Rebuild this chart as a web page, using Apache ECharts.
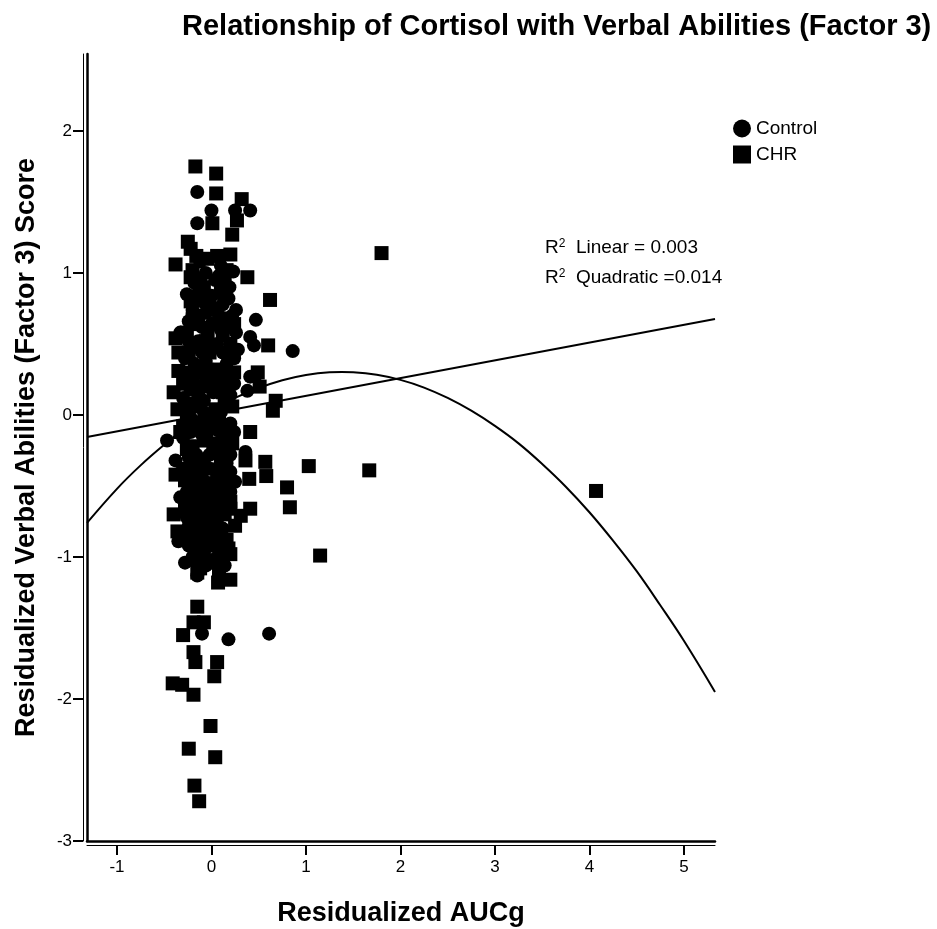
<!DOCTYPE html>
<html>
<head>
<meta charset="utf-8">
<title>Relationship of Cortisol with Verbal Abilities (Factor 3)</title>
<script src="https://cdn.jsdelivr.net/npm/echarts@6/dist/echarts.min.js"></script>
<style>
  html, body { margin: 0; padding: 0; background: #fff; }
  #chart { width: 937px; height: 929px; }
</style>
</head>
<body>
<div id="chart"></div>
<script>
  // axis ticks
  var xTicks = [-1, 0, 1, 2, 3, 4, 5]
  var yTicks = [-3, -2, -1, 0, 1, 2]

  // Control group (circles): [residualized AUCg, factor 3 score]
  var controlPoints = [
    [-0.15, 1.57], [0.00, 1.44], [0.25, 1.44], [0.41, 1.44], [-0.15, 1.35],
    [0.23, 1.01], [-0.26, 0.85], [-0.20, 0.71], [-0.33, 0.58], [0.47, 0.67],
    [0.45, 0.49], [0.41, 0.55], [0.86, 0.45], [0.22, 0.44], [0.47, 0.28],
    [0.41, 0.27], [0.38, 0.17], [-0.47, -0.18], [-0.38, -0.32], [0.18, -0.25],
    [0.36, -0.26], [0.25, -0.47], [-0.33, -0.58], [-0.35, -0.89], [-0.28, -1.04],
    [-0.15, -1.13], [-0.10, -1.54], [0.18, -1.58], [0.61, -1.54],
    [-0.12, 1.08], [0.10, 1.05],
    [-0.18, 0.93], [0.04, 0.95], [0.19, 0.90],
    [-0.10, 0.80], [0.12, 0.78], [0.26, 0.74],
    [-0.24, 0.66], [0.00, 0.64], [0.20, 0.62],
    [-0.14, 0.52], [0.06, 0.50], [0.28, 0.46],
    [-0.28, 0.40], [-0.06, 0.38], [0.16, 0.36],
    [-0.20, 0.26], [0.02, 0.24], [0.24, 0.22],
    [-0.30, 0.12], [-0.08, 0.10], [0.14, 0.08],
    [-0.22, -0.02], [0.00, -0.04], [0.20, -0.06],
    [-0.30, -0.16], [-0.10, -0.14], [0.10, -0.18],
    [-0.24, -0.30], [-0.02, -0.28], [0.16, -0.34],
    [-0.16, -0.42], [0.06, -0.44],
    [-0.26, -0.54], [-0.04, -0.52], [0.16, -0.56],
    [-0.18, -0.66], [0.02, -0.68],
    [-0.24, -0.78], [-0.04, -0.76], [0.12, -0.80],
    [-0.14, -0.90], [0.06, -0.92],
    [-0.20, -1.00], [0.02, -1.02],
    [-0.06, 1.00], [0.08, 0.98], [-0.14, 0.86], [0.00, 0.84], [0.18, 0.82],
    [-0.20, 0.74], [-0.06, 0.72], [0.08, 0.70], [0.22, 0.70],
    [-0.10, 0.62], [0.10, 0.60], [0.26, 0.58],
    [-0.24, 0.52], [-0.10, 0.44], [0.12, 0.44], [0.24, 0.40],
    [-0.18, 0.36], [0.00, 0.32], [0.18, 0.28],
    [-0.26, 0.30], [-0.06, 0.26], [0.10, 0.22],
    [-0.14, 0.14], [0.02, 0.16], [0.20, 0.14],
    [-0.26, 0.04], [-0.08, 0.02], [0.10, 0.02],
    [-0.16, -0.06], [0.06, -0.08], [0.24, -0.12],
    [-0.22, -0.12], [-0.04, -0.12], [0.14, -0.14],
    [-0.16, -0.28], [0.06, -0.26], [0.20, -0.28],
    [-0.20, -0.36], [0.00, -0.38], [0.20, -0.40],
    [-0.10, -0.44], [0.10, -0.46],
    [-0.20, -0.54], [0.02, -0.56], [0.20, -0.54],
    [-0.06, -0.64], [0.14, -0.64], [-0.24, -0.60],
    [-0.14, -0.74], [0.06, -0.76], [-0.26, -0.72],
    [-0.08, -0.84], [0.10, -0.86], [-0.28, -0.84],
    [-0.14, -0.96], [0.08, -0.96], [-0.24, -0.92],
    [-0.06, -1.06], [0.14, -1.06]
  ]

  // CHR group (squares)
  var chrPoints = [
    [1.80, 1.14], [4.07, -0.535], [1.67, -0.39], [1.03, -0.36], [1.15, -0.99],
    [0.83, -0.65], [0.80, -0.51], [0.57, -0.33], [0.58, -0.43], [0.68, 0.10],
    [0.65, 0.03], [0.62, 0.81], [0.60, 0.49], [0.49, 0.30], [0.51, 0.20],
    [0.41, -0.12], [0.41, -0.66], [0.40, -0.45], [0.36, -0.32], [0.20, -0.61],
    [0.31, -0.71], [0.25, -0.78], [0.20, -0.98],
    [-0.17, 1.75], [0.05, 1.70], [0.05, 1.56], [0.32, 1.52], [0.27, 1.37],
    [0.01, 1.35], [0.22, 1.27], [-0.25, 1.22], [-0.38, 1.06], [0.20, 1.13],
    [-0.22, 1.17], [0.38, 0.97], [-0.22, 0.97],
    [-0.38, 0.54], [-0.35, 0.44], [-0.35, 0.31], [-0.40, 0.16], [-0.36, 0.04],
    [-0.33, -0.12], [-0.38, -0.42], [-0.40, -0.70], [-0.36, -0.82],
    [-0.15, -1.11], [0.07, -1.18], [0.20, -1.16], [-0.15, -1.35], [-0.08, -1.46],
    [-0.19, -1.46], [-0.30, -1.55], [-0.19, -1.67], [-0.17, -1.74], [0.06, -1.74],
    [0.03, -1.84], [-0.41, -1.89], [-0.31, -1.90], [-0.19, -1.97], [-0.01, -2.19],
    [-0.24, -2.35], [0.04, -2.41], [-0.18, -2.61], [-0.13, -2.72],
    [-0.04, 1.10], [0.16, 1.02], [-0.20, 1.02],
    [-0.08, 0.90], [0.10, 0.86], [-0.22, 0.80],
    [0.02, 0.74], [-0.14, 0.70], [0.16, 0.68],
    [-0.26, 0.58], [-0.04, 0.58], [0.12, 0.56],
    [-0.20, 0.48], [0.20, 0.50], [-0.02, 0.44],
    [-0.14, 0.34], [0.08, 0.32], [0.24, 0.30],
    [-0.30, 0.22], [-0.10, 0.20], [0.12, 0.16],
    [-0.20, 0.08], [0.04, 0.04], [0.22, 0.06],
    [-0.30, -0.08], [-0.12, -0.06], [0.10, -0.10],
    [-0.20, -0.22], [0.02, -0.20], [0.22, -0.20],
    [-0.30, -0.38], [-0.08, -0.36], [0.14, -0.40],
    [-0.24, -0.46], [-0.04, -0.48], [0.18, -0.48],
    [-0.12, -0.60], [0.10, -0.62], [-0.28, -0.66],
    [-0.10, -0.72], [0.14, -0.70],
    [-0.22, -0.86], [0.00, -0.84], [0.16, -0.88],
    [-0.08, -0.98], [0.12, -1.00],
    [-0.12, -1.08], [0.08, -1.10],
    [-0.16, 1.12], [0.06, 1.12], [-0.12, 0.96], [0.14, 0.94],
    [-0.02, 0.82], [-0.18, 0.64], [0.06, 0.64], [0.24, 0.64],
    [-0.06, 0.52], [0.18, 0.42], [-0.24, 0.44],
    [-0.08, 0.30], [0.12, 0.28], [-0.22, 0.18], [0.04, 0.20], [0.18, 0.20],
    [-0.12, 0.06], [0.14, 0.10], [-0.26, -0.02], [0.08, -0.02],
    [-0.06, -0.18], [0.16, -0.22], [-0.26, -0.24],
    [-0.12, -0.32], [0.10, -0.32], [-0.28, -0.46], [-0.14, -0.50], [0.08, -0.52],
    [-0.16, -0.58], [0.20, -0.66], [-0.02, -0.62],
    [-0.20, -0.72], [0.04, -0.72],
    [-0.16, -0.82], [0.08, -0.82], [-0.02, -0.92], [0.18, -0.94],
    [-0.16, -1.02], [0.06, -1.04]
  ]

  // fit lines
  var linearFit = [[-1.317, -0.155], [5.329, 0.676]]
  var quadX = [-1.317, -1.0, -0.75, -0.5, -0.25, 0, 0.25, 0.5, 0.75, 1.0, 1.25, 1.38, 1.5, 1.75,
    2.0, 2.25, 2.5, 2.75, 3.0, 3.25, 3.5, 3.75, 4.0, 4.25, 4.5, 4.75, 5.0, 5.329]
  var quadY = [-0.76, -0.52, -0.355, -0.21, -0.08, 0.03, 0.12, 0.19, 0.245, 0.282, 0.301, 0.303, 0.301, 0.283,
    0.247, 0.193, 0.12, 0.03, -0.077, -0.20, -0.345, -0.505, -0.685, -0.885, -1.10, -1.34, -1.59, -1.95]

  var xMin = -1.317
  var xMax = 5.329
  var yMin = -3
  var yMax = 2.542
  var font = 'Liberation Sans, Arial, sans-serif'

  var quadFit = quadX.map(function (x, i) { return [x, quadY[i]] })

  var r2Rich = {
    r: { fontFamily: font, fontSize: 19, color: '#000' },
    s: { fontFamily: font, fontSize: 12, color: '#000', verticalAlign: 'top', padding: [0, 0, 8, 0] },
    t: { fontFamily: font, fontSize: 19, color: '#000' }
  }

  var chart = echarts.init(document.getElementById('chart'))
  var option = {
    animation: false,
    backgroundColor: '#fff',
    textStyle: { fontFamily: font, color: '#000' },
    title: {
      text: 'Relationship of Cortisol with Verbal Abilities (Factor 3)',
      left: 177,
      top: 7,
      textStyle: { fontFamily: font, fontSize: 29, fontWeight: 'bold', color: '#000' }
    },
    legend: {
      orient: 'vertical',
      left: 733,
      top: 119,
      padding: 0,
      itemWidth: 18,
      itemHeight: 18,
      itemGap: 7,
      itemStyle: { color: '#000' },
      textStyle: { fontFamily: font, fontSize: 19, color: '#000' },
      data: [
        { name: 'Control', icon: 'circle' },
        { name: 'CHR', icon: 'rect' }
      ]
    },
    grid: { left: 87, right: 222, top: 54, bottom: 88, outerBoundsMode: 'none', containLabel: false },
    xAxis: [
      {
        type: 'value',
        min: xMin,
        max: xMax,
        offset: 4,
        name: 'Residualized AUCg',
        nameLocation: 'middle',
        nameGap: 55,
        nameTextStyle: { fontFamily: font, fontSize: 27, fontWeight: 'bold', color: '#000' },
        axisLine: { show: true, onZero: false, lineStyle: { color: '#000', width: 1 } },
        axisTick: { show: true, length: 10, customValues: xTicks, lineStyle: { color: '#000', width: 2 } },
        axisLabel: { customValues: xTicks, margin: 14, fontFamily: font, fontSize: 17, color: '#000' },
        splitLine: { show: false }
      },
      {
        type: 'value',
        min: xMin,
        max: xMax,
        position: 'bottom',
        offset: 0,
        axisLine: { show: true, onZero: false, lineStyle: { color: '#000', width: 2.5 } },
        axisTick: { show: false },
        axisLabel: { show: false },
        splitLine: { show: false }
      }
    ],
    yAxis: [
      {
        type: 'value',
        min: yMin,
        max: yMax,
        offset: 4,
        name: 'Residualized Verbal Abilities (Factor 3) Score',
        nameLocation: 'middle',
        nameGap: 43,
        nameTextStyle: { fontFamily: font, fontSize: 27, fontWeight: 'bold', color: '#000' },
        axisLine: { show: true, onZero: false, lineStyle: { color: '#000', width: 1 } },
        axisTick: { show: true, length: 10, customValues: yTicks, lineStyle: { color: '#000', width: 2 } },
        axisLabel: { customValues: yTicks, margin: 11, fontFamily: font, fontSize: 17, color: '#000' },
        splitLine: { show: false }
      },
      {
        type: 'value',
        min: yMin,
        max: yMax,
        position: 'left',
        offset: 0,
        axisLine: { show: true, onZero: false, lineStyle: { color: '#000', width: 2.5 } },
        axisTick: { show: false },
        axisLabel: { show: false },
        splitLine: { show: false }
      }
    ],
    graphic: [
      {
        type: 'text',
        left: 545,
        top: 238,
        style: { text: '{r|R}{s|2}{t|  Linear = 0.003}', rich: r2Rich }
      },
      {
        type: 'text',
        left: 545,
        top: 268,
        style: { text: '{r|R}{s|2}{t|  Quadratic =0.014}', rich: r2Rich }
      }
    ],
    series: [
      {
        name: 'Linear',
        type: 'line',
        data: linearFit,
        showSymbol: false,
        symbol: 'none',
        lineStyle: { color: '#000', width: 2 },
        z: 1
      },
      {
        name: 'Quadratic',
        type: 'line',
        data: quadFit,
        smooth: 0.4,
        showSymbol: false,
        symbol: 'none',
        lineStyle: { color: '#000', width: 2 },
        z: 1
      },
      {
        name: 'Control',
        type: 'scatter',
        symbol: 'circle',
        symbolSize: 14,
        itemStyle: { color: '#000', opacity: 1 },
        data: controlPoints,
        z: 3
      },
      {
        name: 'CHR',
        type: 'scatter',
        symbol: 'rect',
        symbolSize: 14,
        itemStyle: { color: '#000', opacity: 1 },
        data: chrPoints,
        z: 3
      }
    ]
  }
  chart.setOption(option)
  window.addEventListener('resize', function () {
    chart.resize()
  })
</script>
</body>
</html>
